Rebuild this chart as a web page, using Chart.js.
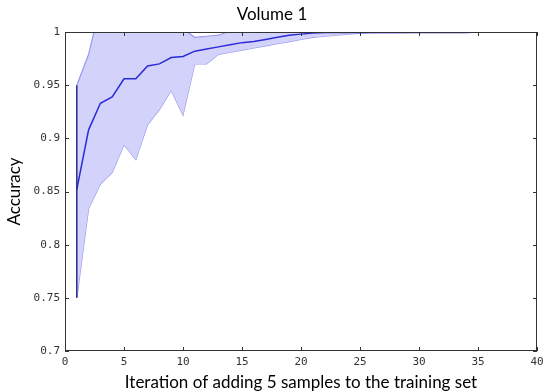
<!DOCTYPE html>
<html>
<head>
<meta charset="utf-8">
<script src="https://cdn.jsdelivr.net/npm/chart.js@4"></script>
<style>
  html, body { margin: 0; padding: 0; background: #fff; }
</style>
</head>
<body>
<canvas id="accChart" width="544" height="391"></canvas>
<script>
// iteration index (each one adds 5 samples)
const iterations = [1, 2, 3, 4, 5, 6, 7, 8, 9, 10,
                    11, 12, 13, 14, 15, 16, 17, 18, 19, 20,
                    21, 22, 23, 24, 25, 26, 27, 28, 29, 30,
                    31, 32, 33, 34, 35, 36, 37, 38, 39, 40];

const meanAcc = [0.852, 0.908, 0.933, 0.939, 0.956, 0.956, 0.968, 0.970, 0.976, 0.977,
                 0.982, 0.984, 0.986, 0.988, 0.990, 0.991, 0.993, 0.995, 0.997, 0.998,
                 0.999, 0.9995, 0.9995, 0.9995, 0.9995, 0.9995, 0.9995, 0.9995, 0.9995, 0.9995,
                 0.9995, 0.9995, 0.9995, 0.9995, 1.0, 1.0, 1.0, 1.0, 1.0, 1.0];

const lowerAcc = [0.750, 0.834, 0.857, 0.868, 0.894, 0.880, 0.913, 0.927, 0.945, 0.922,
                  0.970, 0.970, 0.979, 0.981, 0.983, 0.985, 0.987, 0.989, 0.991, 0.993,
                  0.995, 0.996, 0.997, 0.998, 0.999, 0.9995, 0.9995, 0.9995, 0.9995, 1.0,
                  1.0, 1.0, 1.0, 1.0, 1.0, 1.0, 1.0, 1.0, 1.0, 1.0];

const upperAcc = [0.950, 0.979, 1.025, 1.03, 1.03, 1.03, 1.025, 1.02, 1.01, 1.003,
                  0.995, 0.996, 0.997, 1.001, 1.001, 1.001, 1.001, 1.001, 1.001, 1.001,
                  1.001, 1.001, 1.001, 1.001, 1.001, 1.001, 1.001, 1.001, 1.001, 1.001,
                  1.001, 1.001, 1.001, 1.001, 1.001, 1.001, 1.001, 1.001, 1.001, 1.001];

const xTicks = [0, 5, 10, 15, 20, 25, 30, 35, 40];
const yTicks = [0.7, 0.75, 0.8, 0.85, 0.9, 0.95, 1];

const toPoints = (vals) => vals.map((v, i) => ({ x: iterations[i], y: v }));

// box round the plot with inward ticks, like matlab
const matlabFrame = {
    id: 'matlabFrame',
    afterDraw(chart) {
        const { ctx, chartArea: a, scales: { x, y } } = chart;
        ctx.save();
        ctx.strokeStyle = '#333';
        ctx.lineWidth = 1;
        ctx.beginPath();
        xTicks.forEach(t => {
            const px = Math.round(x.getPixelForValue(t)) + 0.5;
            ctx.moveTo(px, a.bottom);
            ctx.lineTo(px, a.bottom - 4);
            ctx.moveTo(px, a.top);
            ctx.lineTo(px, a.top + 4);
        });
        yTicks.forEach(t => {
            const py = Math.round(y.getPixelForValue(t)) + 0.5;
            ctx.moveTo(a.left, py);
            ctx.lineTo(a.left + 4, py);
            ctx.moveTo(a.right, py);
            ctx.lineTo(a.right - 4, py);
        });
        ctx.stroke();
        ctx.strokeRect(Math.round(a.left) + 0.5, Math.round(a.top) + 0.5,
                       Math.round(a.right - a.left) - 1, Math.round(a.bottom - a.top) - 1);
        ctx.restore();
    }
};

const tickFont = { family: 'DejaVu Sans Mono', size: 11 };
const labelFont = { family: 'Lato', size: 17, lineHeight: 1, weight: 'normal' };

const ctx = document.getElementById('accChart').getContext('2d');
const accChart = new Chart(ctx, {
    type: 'line',
    data: {
        datasets: [{
            // dark stroke at the first iteration
            data: [{ x: iterations[0], y: lowerAcc[0] }, { x: iterations[0], y: upperAcc[0] }],
            borderColor: '#2a2a8a',
            borderWidth: 1.5,
            pointRadius: 0,
            fill: false
        }, {
            label: 'mean',
            data: toPoints(meanAcc),
            borderColor: '#2b2bd8',
            borderWidth: 1.5,
            pointRadius: 0,
            fill: false
        }, {
            label: 'upper',
            data: toPoints(upperAcc),
            borderColor: '#9898ee',
            backgroundColor: '#d2d2fb',
            borderWidth: 1.2,
            pointRadius: 0,
            fill: '+1'
        }, {
            label: 'lower',
            data: toPoints(lowerAcc),
            borderColor: '#9898ee',
            borderWidth: 1.2,
            pointRadius: 0,
            fill: false
        }]
    },
    options: {
        responsive: false,
        animation: false,
        devicePixelRatio: 1,
        layout: { padding: { left: 0, right: 0, top: 0, bottom: 0 } },
        elements: { line: { tension: 0 } },
        plugins: {
            legend: { display: false },
            tooltip: { enabled: false },
            title: {
                display: true,
                text: 'Volume 1',
                color: '#000',
                font: labelFont,
                padding: { top: 6, bottom: 9 }
            }
        },
        scales: {
            x: {
                type: 'linear',
                min: 0,
                max: 40,
                afterFit: s => { s.height = 40; s.paddingRight = 7; s.paddingLeft = 0; },
                afterBuildTicks: s => { s.ticks = xTicks.map(v => ({ value: v })); },
                grid: { display: false, drawTicks: false },
                border: { display: false },
                ticks: { font: tickFont, color: '#333', padding: 5, maxRotation: 0 },
                title: {
                    display: true,
                    text: 'Iteration of adding 5 samples to the training set',
                    color: '#000',
                    font: labelFont,
                    padding: { top: 0, bottom: 0 }
                }
            },
            y: {
                min: 0.7,
                max: 1,
                afterFit: s => { s.width = 65; },
                afterBuildTicks: s => { s.ticks = yTicks.map(v => ({ value: v })); },
                grid: { display: false, drawTicks: false },
                border: { display: false },
                ticks: {
                    font: tickFont,
                    color: '#333',
                    padding: 5,
                    callback: v => String(Number(v.toFixed(2)))
                },
                title: {
                    display: true,
                    text: 'Accuracy',
                    color: '#000',
                    font: labelFont,
                    padding: { top: 6, bottom: 0 }
                }
            }
        }
    },
    plugins: [matlabFrame]
});
</script>
</body>
</html>
